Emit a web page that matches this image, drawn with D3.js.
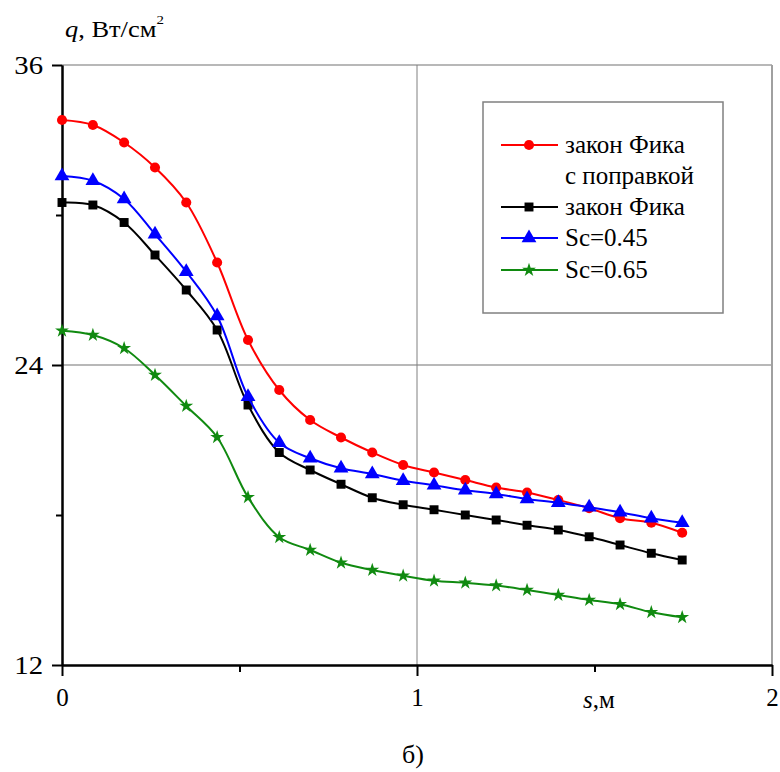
<!DOCTYPE html>
<html>
<head>
<meta charset="utf-8">
<script src="https://cdn.jsdelivr.net/npm/d3@7"></script>
<style>
  body { margin: 0; background: #fff; }
  svg text { font-family: "Liberation Serif", "Times New Roman", serif; }
</style>
</head>
<body>
<div id="chartDiv"></div>
<script>
// distance along the surface, m
const sValues = [0, 0.087, 0.175, 0.262, 0.35, 0.437, 0.524, 0.612, 0.699, 0.786, 0.874,
  0.961, 1.048, 1.136, 1.223, 1.31, 1.398, 1.485, 1.572, 1.66, 1.747]

// heat flux q, W/cm2
const qFickCorrected = [33.8, 33.6, 32.9, 31.9, 30.5, 28.1, 25.0, 23.0, 21.8, 21.1, 20.5,
  20.0, 19.7, 19.4, 19.1, 18.9, 18.6, 18.27, 17.87, 17.69, 17.29]
const qFick = [30.5, 30.4, 29.7, 28.4, 27.0, 25.4, 22.4, 20.5, 19.8, 19.23, 18.69,
  18.41, 18.21, 18.0, 17.8, 17.59, 17.4, 17.13, 16.8, 16.47, 16.2]
const qSc045 = [31.56, 31.37, 30.64, 29.23, 27.73, 25.96, 22.73, 20.89, 20.27, 19.87, 19.64,
  19.37, 19.19, 18.99, 18.84, 18.64, 18.49, 18.31, 18.11, 17.87, 17.69]
const qSc065 = [25.37, 25.2, 24.67, 23.6, 22.36, 21.11, 18.71, 17.11, 16.6, 16.09, 15.8,
  15.57, 15.37, 15.29, 15.18, 15.0, 14.8, 14.6, 14.43, 14.11, 13.91]

const seriesNames = ['закон Фика|с поправкой', 'закон Фика', 'Sc=0.45', 'Sc=0.65']

const xTicks = [0, 1, 2]
const xMinorTicks = [0.5, 1.5]
const yTicks = [12, 24, 36]
const yMinorTicks = [18, 30]

const series = [
  { name: seriesNames[0], values: qFickCorrected, color: '#ff0000', symbol: d3.symbolCircle, size: 80 },
  { name: seriesNames[1], values: qFick, color: '#000000', symbol: d3.symbolSquare, size: 80 },
  { name: seriesNames[2], values: qSc045, color: '#0000ff', symbol: d3.symbolTriangle, size: 95 },
  { name: seriesNames[3], values: qSc065, color: '#108a10', symbol: d3.symbolStar, size: 60 }
]

const width = 780
const height = 772
const margin = { top: 65, right: 8, bottom: 107, left: 62 }
const plotW = width - margin.left - margin.right
const plotH = height - margin.top - margin.bottom

const svg = d3.select('#chartDiv').append('svg')
  .attr('width', width)
  .attr('height', height)

const g = svg.append('g')
  .attr('transform', `translate(${margin.left},${margin.top})`)

// scales
const x = d3.scaleLinear().domain([0, 2]).range([0, plotW])
const y = d3.scaleLinear().domain([12, 36]).range([plotH, 0])

// gridlines
g.append('g')
  .selectAll('line')
  .data(yTicks.filter(d => d > 12))
  .enter()
  .append('line')
  .attr('x1', 0)
  .attr('x2', plotW)
  .attr('y1', d => y(d))
  .attr('y2', d => y(d))
  .attr('stroke', '#a0a0a0')
  .attr('stroke-width', 1.5)

g.append('g')
  .selectAll('line')
  .data(xTicks.filter(d => d > 0))
  .enter()
  .append('line')
  .attr('x1', d => x(d))
  .attr('x2', d => x(d))
  .attr('y1', 0)
  .attr('y2', plotH)
  .attr('stroke', d => d === 2 ? '#a0a0a0' : '#808080')
  .attr('stroke-width', d => d === 2 ? 2 : 1)

// axes
const styleAxis = sel => {
  sel.attr('font-size', 25)
  sel.select('.domain').attr('stroke', '#000').attr('stroke-width', 2)
  sel.selectAll('.tick line').attr('stroke', '#000').attr('stroke-width', 2)
  sel.selectAll('text').attr('fill', '#000')
}

g.append('g')
  .call(d3.axisLeft(y).tickValues(yMinorTicks).tickSize(6).tickSizeOuter(0).tickFormat(''))
  .call(styleAxis)
g.append('g')
  .call(d3.axisLeft(y).tickValues(yTicks).tickSize(10).tickSizeOuter(0))
  .call(styleAxis)
  .selectAll('text')
  .attr('x', 0)
  .attr('transform', 'translate(-19,0) scale(1.15,1)') // labels look stretched in the original

g.append('g')
  .attr('transform', `translate(0,${plotH})`)
  .call(d3.axisBottom(x).tickValues(xMinorTicks).tickSize(7).tickSizeOuter(0).tickFormat(''))
  .call(styleAxis)
g.append('g')
  .attr('transform', `translate(0,${plotH})`)
  .call(d3.axisBottom(x).tickValues(xTicks).tickSize(11).tickSizeOuter(0).tickPadding(12).tickFormat(d3.format('d')))
  .call(styleAxis)

// curves
const line = d3.line()
  .x((d, i) => x(sValues[i]))
  .y(d => y(d))
  .curve(d3.curveCatmullRom.alpha(0.5))

series.forEach(s => {
  g.append('path')
    .datum(s.values)
    .attr('fill', 'none')
    .attr('stroke', s.color)
    .attr('stroke-width', 2)
    .attr('d', line)

  g.append('g')
    .selectAll('path')
    .data(s.values)
    .enter()
    .append('path')
    .attr('transform', (d, i) => `translate(${x(sValues[i])},${y(d)})`)
    .attr('d', d3.symbol().type(s.symbol).size(s.size))
    .attr('fill', s.color)
})

// legend
const legend = svg.append('g')
  .attr('transform', 'translate(483,102)')

legend.append('rect')
  .attr('width', 240)
  .attr('height', 211)
  .attr('fill', '#fff')
  .attr('stroke', '#808080')
  .attr('stroke-width', 1.5)

const legendRows = [43, 105, 136, 168]
series.forEach((s, i) => {
  const row = legend.append('g').attr('transform', `translate(0,${legendRows[i]})`)
  row.append('line')
    .attr('x1', 18)
    .attr('x2', 75)
    .attr('stroke', s.color)
    .attr('stroke-width', 2)
  row.append('path')
    .attr('transform', 'translate(46,0)')
    .attr('d', d3.symbol().type(s.symbol).size(s.size))
    .attr('fill', s.color)
  s.name.split('|').forEach((t, j) => {
    row.append('text')
      .attr('x', 82)
      .attr('y', 8 + j * 31)
      .attr('font-size', 25)
      .text(t)
  })
})

// axis titles
const yTitle = svg.append('text')
  .attr('transform', 'translate(65,37) scale(1.15,1)')
  .attr('font-size', 23)
yTitle.append('tspan').attr('font-style', 'italic').text('q')
yTitle.append('tspan').text(', Вт/см')
yTitle.append('tspan').attr('dy', -13).attr('font-size', 13).text('2')

const xTitle = svg.append('text')
  .attr('x', 583)
  .attr('y', 708)
  .attr('font-size', 25)
xTitle.append('tspan').attr('font-style', 'italic').text('s')
xTitle.append('tspan').text(',м')

svg.append('text')
  .attr('x', 413)
  .attr('y', 763)
  .attr('text-anchor', 'middle')
  .attr('font-size', 26)
  .text('б)')
</script>
</body>
</html>
